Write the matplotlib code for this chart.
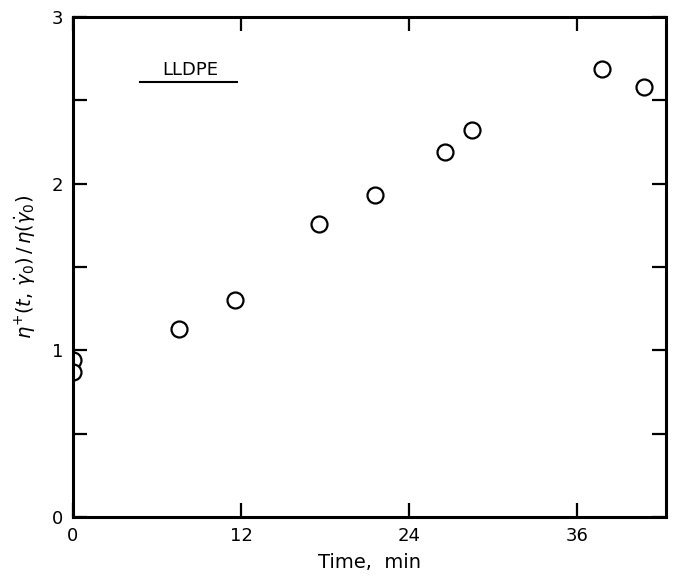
import matplotlib.pyplot as plt
import matplotlib as mpl
from matplotlib.ticker import MultipleLocator

mpl.rcParams.update({
    'font.family': 'DejaVu Sans',
    'mathtext.fontset': 'dejavusans',
})

# Stress growth ratio measured over time (LLDPE)
time_min = [0.0, 0.0, 7.6, 11.6, 17.6, 21.6, 26.6, 28.5, 37.8, 40.8]
eta_ratio = [0.94, 0.87, 1.13, 1.30, 1.76, 1.93, 2.19, 2.32, 2.69, 2.58]

x_ticks = [0, 12, 24, 36]
y_ticks = [0, 1, 2, 3]

fig = plt.figure(figsize=(6.79, 5.79), dpi=100)
ax = fig.add_axes([0.1075, 0.107, 0.8735, 0.8636])

ax.plot(time_min, eta_ratio, 'o', linestyle='none', markersize=11.5,
        markerfacecolor='white', markeredgecolor='black', markeredgewidth=1.6,
        clip_on=True, zorder=1)

ax.set_xlim(0, 42.36)
ax.set_ylim(0, 3)
ax.set_xticks(x_ticks)
ax.set_yticks(y_ticks)
ax.yaxis.set_minor_locator(MultipleLocator(0.5))

for s in ax.spines.values():
    s.set_linewidth(2.2)
    s.set_zorder(3)

ax.tick_params(which='both', direction='in', top=True, right=True,
               length=10, width=1.6, labelsize=13, pad=7)
ax.tick_params(axis='x', which='major', labeltop=False)

ax.set_xlabel('Time,  min', fontsize=14, labelpad=6)
ax.set_ylabel(r'$\eta^{+}(t,\,\dot{\gamma}_0)\,/\,\eta(\dot{\gamma}_0)$',
              fontsize=14, labelpad=10)

# sample label, underlined
ax.text(0.197, 0.895, 'LLDPE', transform=ax.transAxes, fontsize=13,
        ha='center', va='center')
ax.plot([0.113, 0.277], [0.871, 0.871], transform=ax.transAxes,
        color='black', linewidth=1.5, clip_on=False)

plt.savefig('out.png', dpi=100)
